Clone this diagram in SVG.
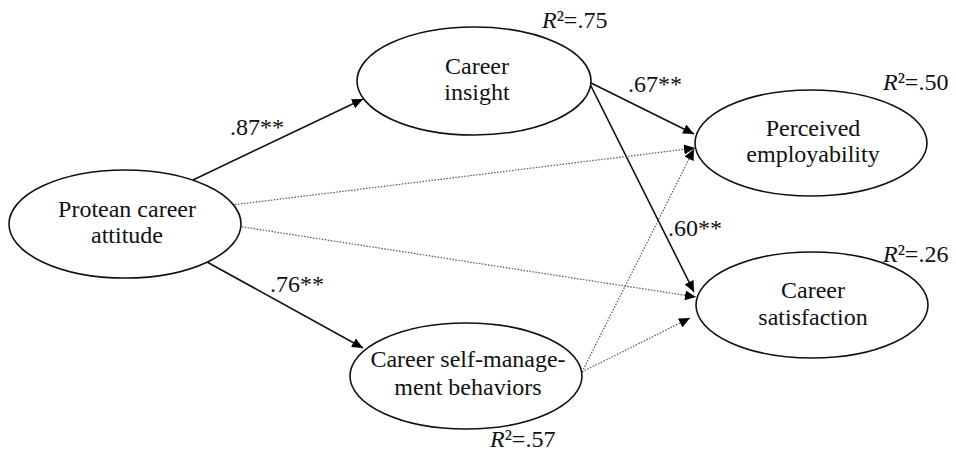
<svg xmlns="http://www.w3.org/2000/svg" width="956" height="456" viewBox="0 0 956 456">
<defs>
<marker id="ah" markerUnits="userSpaceOnUse" markerWidth="12" markerHeight="10" refX="11" refY="5" orient="auto">
<path d="M0,0 L11,5 L0,10 z" fill="#000"/>
</marker>
<style>
.node ellipse{fill:#fff;stroke:#111;stroke-width:1.6}
text{font-family:'Liberation Serif','DejaVu Serif',serif;font-size:24px;fill:#111}
.lbl{text-anchor:middle}
.solid{stroke:#111;stroke-width:1.6;fill:none}
.dot{stroke:#555;stroke-width:1.2;stroke-dasharray:1.5 1.5;fill:none}
</style>
</defs>
<rect width="956" height="456" fill="#fff"/>
<g id="connectors">
<line class="solid" x1="193" y1="180" x2="363" y2="99" marker-end="url(#ah)"/>
<line class="solid" x1="207" y1="262" x2="363" y2="348" marker-end="url(#ah)"/>
<line class="solid" x1="589" y1="82" x2="694" y2="134" marker-end="url(#ah)"/>
<line class="solid" x1="589" y1="82" x2="694" y2="292" marker-end="url(#ah)"/>
<line class="dot" x1="232" y1="205" x2="695" y2="148" marker-end="url(#ah)"/>
<line class="dot" x1="230" y1="225" x2="696" y2="297" marker-end="url(#ah)"/>
<line class="dot" x1="582" y1="372" x2="694" y2="149" marker-end="url(#ah)"/>
<line class="dot" x1="582" y1="372" x2="690" y2="318" marker-end="url(#ah)"/>
</g>
<g id="protean" class="node">
<ellipse cx="125" cy="224" rx="116" ry="54"/>
<text class="lbl" x="127" y="217">Protean career</text>
<text class="lbl" x="127" y="243">attitude</text>
</g>
<g id="insight" class="node">
<ellipse cx="474" cy="81" rx="117" ry="54"/>
<text class="lbl" x="477" y="74">Career</text>
<text class="lbl" x="477" y="100">insight</text>
</g>
<g id="selfmgmt" class="node">
<ellipse cx="466" cy="376" rx="116" ry="53"/>
<text class="lbl" x="468" y="367">Career self-manage-</text>
<text class="lbl" x="468" y="395">ment behaviors</text>
</g>
<g id="employability" class="node">
<ellipse cx="811" cy="143" rx="116" ry="53"/>
<text class="lbl" x="813" y="136">Perceived</text>
<text class="lbl" x="813" y="162">employability</text>
</g>
<g id="satisfaction" class="node">
<ellipse cx="812" cy="305" rx="116" ry="53"/>
<text class="lbl" x="813" y="298">Career</text>
<text class="lbl" x="813" y="325">satisfaction</text>
</g>
<g id="labels">
<text x="230" y="135">.87**</text>
<text x="270" y="292">.76**</text>
<text x="628" y="92">.67**</text>
<text x="668" y="236">.60**</text>
<text x="542" y="28"><tspan font-style="italic">R</tspan>²=.75</text>
<text x="883" y="90"><tspan font-style="italic">R</tspan>²=.50</text>
<text x="883" y="262"><tspan font-style="italic">R</tspan>²=.26</text>
<text x="490" y="447"><tspan font-style="italic">R</tspan>²=.57</text>
</g>
</svg>
